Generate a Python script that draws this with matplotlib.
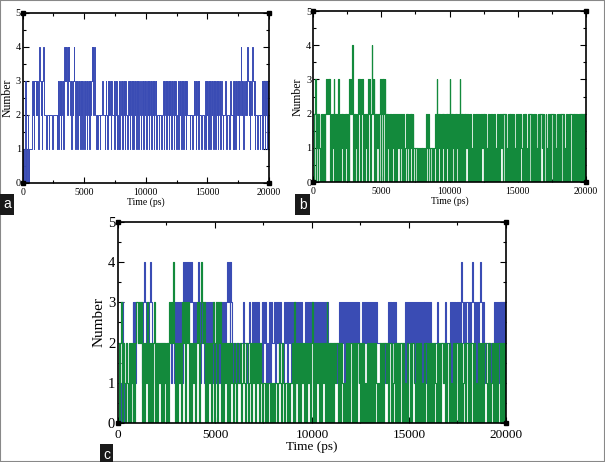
import numpy as np
import matplotlib
matplotlib.use("Agg")
from matplotlib import pyplot as plt
from matplotlib.patches import Rectangle

# number of H-bonds per frame, one digit = one frame (50 ps)
# each string covers 1000 ps (20 frames)
blue_blocks = [
    "01013010210111132313", "32323134323134322212", "22122222122222212313",
    "23132314343424343231", "32343132313231323132", "13231323132343424321",
    "21222122232221232132", "32313222313231213132", "23132313221323132313",
    "13231323132213231323", "31323132313231323122", "21222122313231323132",
    "31323132312231323132", "31323132222122212232", "31323132221222213132",
    "31323132313231323132", "31322122232122212322", "21313132323132432313",
    "32323432313234323122", "21222122313231323132", "3",
]
green_blocks = [
    "20230210210202102023", "32323020213020202302", "02120202120203232420",
    "20212032303230202120", "23230243230202120230", "23032302021202021210",
    "21021120121022012021", "20212021101101011010", "10110121021011010112",
    "03021202021202021202", "30202120202120230202", "02021220202101020202",
    "20202022120202010202", "02020210102020221202", "20201202020220201020",
    "02022102020201020220", "20202021020202212020", "02010202022020201202",
    "20202202010202020221", "02020120202022020202", "2",
]
dt = 50  # ps per frame
xticks = [0, 5000, 10000, 15000, 20000]
yticks = [0, 1, 2, 3, 4, 5]

blue = np.array([int(c) for c in "".join(blue_blocks)])
green = np.array([int(c) for c in "".join(green_blocks)])
t_blue = np.arange(len(blue)) * dt
t_green = np.arange(len(green)) * dt

blue_col = "#3a4cb4"
green_col = "#138a3c"

plt.rcParams["font.family"] = "Liberation Serif"


def style_axes(ax, fsx, fsy, pad_x, pad_y, lab_x, lab_y):
    ax.set_xlim(0, 20000)
    ax.set_ylim(0, 5)
    ax.set_xticks(xticks)
    ax.set_xticks([2500, 7500, 12500, 17500], minor=True)
    ax.set_yticks(yticks)
    ax.set_yticks([0.5, 1.5, 2.5, 3.5, 4.5], minor=True)
    ax.tick_params(which="both", direction="in", top=True, right=True, width=0.8)
    ax.tick_params(axis="x", pad=pad_x, labelsize=fsx)
    ax.tick_params(axis="y", pad=pad_y, labelsize=fsy)
    ax.tick_params(which="major", length=4)
    ax.tick_params(which="minor", length=2)
    for s in ax.spines.values():
        s.set_linewidth(1.2)
    ax.set_xlabel("Time (ps)", fontsize=lab_x, labelpad=0.5)
    ax.set_ylabel("Number", fontsize=lab_y, labelpad=1.5)
    # xmgrace leaves small squares on the frame corners
    ax.plot([0, 1, 1, 0], [0, 0, 1, 1], "s", ms=2.2, color="k",
            transform=ax.transAxes, clip_on=False, zorder=5)


fig = plt.figure(figsize=(6.05, 4.62), dpi=100)

ax_a = fig.add_axes([0.0375, 0.604, 0.407, 0.368])
ax_a.plot(t_blue, blue, color=blue_col, lw=0.7, drawstyle="steps-post")
style_axes(ax_a, 7, 7.5, 3.5, 1.2, 7, 8.5)

ax_b = fig.add_axes([0.5174, 0.606, 0.4512, 0.370])
ax_b.plot(t_green, green, color=green_col, lw=0.85, drawstyle="steps-post")
style_axes(ax_b, 7, 7.5, 3.5, 1.2, 7, 8.5)

ax_c = fig.add_axes([0.195, 0.0844, 0.6413, 0.4351])
ax_c.plot(t_blue, blue, color=blue_col, lw=0.8, drawstyle="steps-post")
ax_c.plot(t_green, green, color=green_col, lw=0.85, drawstyle="steps-post")
style_axes(ax_c, 9.5, 10.5, 4, 2, 9.5, 11)

# panel letters
for x, y, s in [(0.0116, 0.558, "a"), (0.5, 0.557, "b"), (0.176, 0.016, "c")]:
    fig.text(x, y, s, color="white", fontsize=10, family="Liberation Sans",
             ha="center", va="center",
             bbox=dict(facecolor="#1a1a1a", edgecolor="none", boxstyle="square,pad=0.25"))

fig.patches.append(Rectangle((0, 0), 1, 1, transform=fig.transFigure, fill=False,
                             edgecolor="#888888", lw=1.5))

fig.savefig("out.png", dpi=100)
